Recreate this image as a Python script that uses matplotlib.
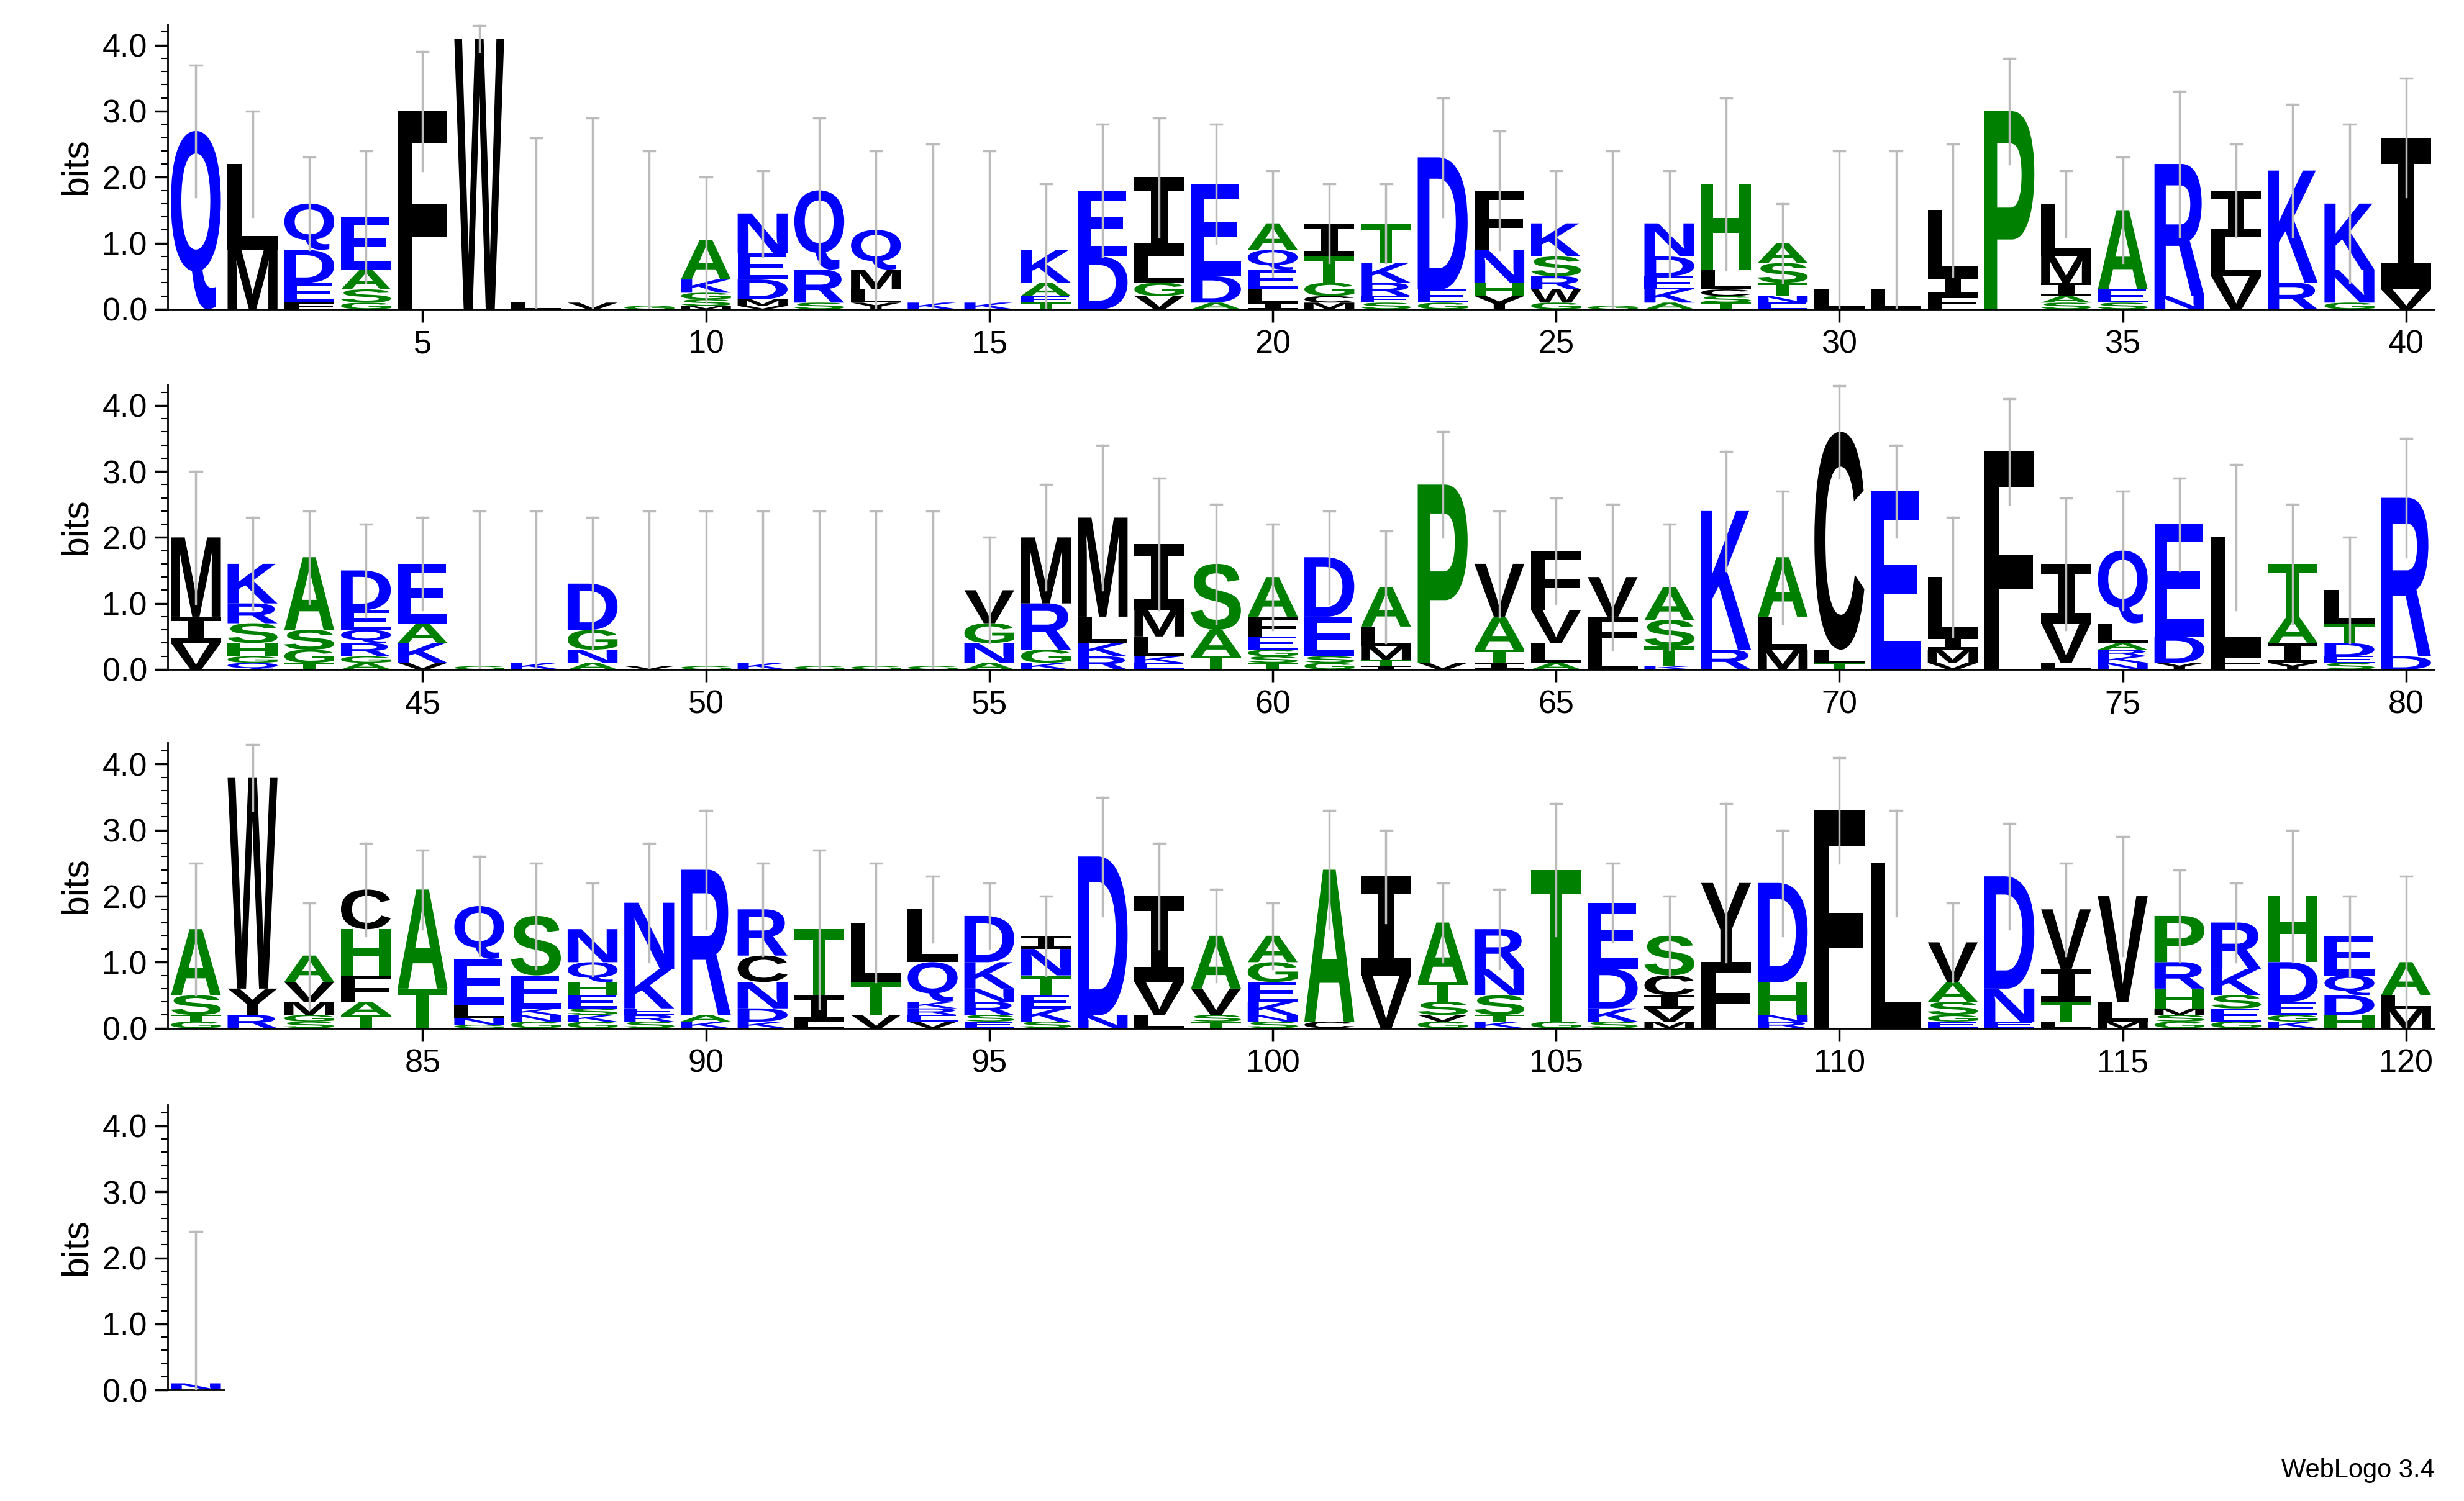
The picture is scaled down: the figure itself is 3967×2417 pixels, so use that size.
import matplotlib
matplotlib.use("Agg")
import matplotlib.pyplot as plt
from matplotlib.textpath import TextPath
from matplotlib.patches import PathPatch
from matplotlib.font_manager import FontProperties
from matplotlib.transforms import Affine2D
from matplotlib.ticker import MultipleLocator

plt.rcParams['font.family'] = ['Liberation Sans', 'DejaVu Sans']

# letter stacks per position, top letter first ("letter" + height in bits)
stacks = [
    "Q2.7", "L1.3 M0.9", "Q0.7 D0.5 E0.3 F0.1", "E0.8 A0.3 S0.2 G0.1", "F3.0",
    "W4.1", "L0.1", "V0.1", "G0.05", "A0.6 K0.2 G0.1 S0.1 M0.05",
    "N0.6 E0.4 D0.3 M0.1 V0.05", "Q1.2 R0.5 S0.1", "Q0.6 M0.3 L0.2 Y0.1", "K0.1", "K0.1",
    "K0.5 A0.2 E0.1 T0.1", "E1.0 D0.8", "I1.2 L0.4 G0.2 V0.2", "E1.4 D0.4 A0.1", "A0.4 Q0.3 E0.3 L0.2 I0.1",
    "I0.5 T0.4 G0.2 C0.1 M0.1", "T0.6 K0.3 R0.2 E0.1 S0.1", "D2.0 E0.2 G0.1", "F0.9 N0.5 H0.2 Y0.2", "K0.5 S0.3 R0.2 W0.2 G0.1",
    "G0.05", "N0.5 D0.3 E0.2 K0.2 A0.1", "H1.3 L0.3 C0.1 S0.1 T0.1", "A0.3 S0.3 T0.2 N0.1 E0.1", "L0.3",
    "L0.3", "L1.0 I0.3 F0.2", "P3.0", "L0.8 M0.4 I0.2 A0.1 S0.1", "A1.2 E0.2 S0.1",
    "R2.0 N0.2", "I0.7 L0.6 V0.5", "K1.7 R0.4", "K1.0 N0.5 G0.1", "I2.3 V0.3",
    "M1.2 I0.4 V0.4", "K0.6 R0.3 S0.3 H0.2 G0.1 Q0.1", "A1.1 S0.3 G0.2 T0.1", "D0.6 E0.3 Q0.2 R0.2 G0.1 A0.1", "E0.9 A0.3 K0.3 V0.1",
    "G0.05", "K0.1", "D0.7 G0.3 N0.2 A0.1", "V0.05", "G0.05",
    "K0.1", "G0.05", "G0.05", "G0.05", "V0.5 G0.3 N0.3 A0.1",
    "M1.0 R0.7 G0.2 K0.1", "M1.5 L0.4 K0.2 R0.2", "I1.0 M0.4 L0.3 K0.1 E0.1", "S1.0 A0.4 T0.2", "A0.6 F0.3 E0.2 G0.1 S0.1 T0.1",
    "D0.9 E0.6 S0.1 G0.1", "A0.6 L0.3 M0.2 T0.1 I0.05", "P2.7 V0.1", "V0.8 A0.5 T0.2 I0.1", "F0.9 V0.5 L0.3 A0.1",
    "V0.6 F0.5 L0.3", "A0.5 S0.4 T0.3 K0.05", "K2.1 R0.3", "A0.9 L0.5 M0.3", "C3.3 L0.2 T0.1",
    "E2.7", "L0.9 I0.2 M0.2 V0.1", "F3.3", "I0.9 V0.6 L0.1", "Q1.1 L0.3 A0.1 R0.1 K0.1 N0.1",
    "E1.7 D0.4 Y0.1", "L1.8 F0.2", "T0.8 A0.4 I0.3 Y0.1", "L0.5 T0.3 D0.2 E0.1 S0.1", "R2.4 D0.2",
    "A1.0 S0.3 T0.1 G0.1", "W3.2 Y0.4 R0.2", "A0.4 V0.3 M0.2 G0.1 S0.1", "C0.6 H0.7 F0.4 A0.2 T0.2", "A1.5 T0.6",
    "Q0.8 E0.7 L0.2 N0.1 G0.05", "S0.9 E0.5 K0.1 N0.1 G0.1", "N0.5 Q0.3 H0.2 E0.2 S0.1 K0.1 G0.1", "N1.0 K0.6 E0.1 R0.1 S0.1", "R2.2 A0.1 K0.1",
    "R0.7 C0.4 N0.4 D0.2 K0.1", "T1.0 I0.4 L0.1", "L0.9 T0.5 V0.2", "L0.8 Q0.6 K0.1 R0.1 E0.1 V0.1", "D0.7 K0.4 N0.2 R0.2 S0.1 E0.1",
    "I0.2 N0.4 T0.3 E0.2 K0.2 S0.1", "D2.4 N0.2", "I1.3 V0.5 L0.2", "A0.8 V0.4 S0.1 T0.1", "A0.4 G0.3 E0.3 K0.2 N0.1 S0.1",
    "A2.3 C0.1", "I1.5 V0.8", "A0.9 T0.3 S0.2 V0.1 G0.1", "R0.6 N0.4 S0.3 T0.1 K0.1", "T2.3 G0.1",
    "E1.0 D0.6 K0.2 S0.1", "S0.6 C0.3 I0.2 V0.2 M0.1", "Y1.2 F1.0", "D1.5 H0.5 N0.1 R0.1", "F3.3",
    "L2.5", "V0.6 A0.3 S0.2 G0.1 E0.1", "D1.7 N0.5 E0.1", "V0.9 I0.5 T0.3 L0.1", "V1.6 L0.3 M0.1",
    "P0.7 R0.4 H0.3 M0.1 S0.1 G0.1", "R0.7 K0.4 S0.2 E0.2 G0.1", "H1.0 D0.6 E0.2 G0.1 K0.1", "E0.6 Q0.3 D0.3 H0.2", "A0.5 L0.2 M0.3",
    "N0.1",
]
err_top = [
    3.7, 3.0, 2.3, 2.4, 3.9, 4.3, 2.6, 2.9, 2.4, 2.0,
    2.1, 2.9, 2.4, 2.5, 2.4, 1.9, 2.8, 2.9, 2.8, 2.1,
    1.9, 1.9, 3.2, 2.7, 2.1, 2.4, 2.1, 3.2, 1.6, 2.4,
    2.4, 2.5, 3.8, 2.1, 2.3, 3.3, 2.5, 3.1, 2.8, 3.5,
    3.0, 2.3, 2.4, 2.2, 2.3, 2.4, 2.4, 2.3, 2.4, 2.4,
    2.4, 2.4, 2.4, 2.4, 2.0, 2.8, 3.4, 2.9, 2.5, 2.2,
    2.4, 2.1, 3.6, 2.4, 2.6, 2.5, 2.2, 3.3, 2.7, 4.3,
    3.4, 2.3, 4.1, 2.6, 2.7, 2.9, 3.1, 2.5, 2.0, 3.5,
    2.5, 4.3, 1.9, 2.8, 2.7, 2.6, 2.5, 2.2, 2.8, 3.3,
    2.5, 2.7, 2.5, 2.3, 2.2, 2.0, 3.5, 2.8, 2.1, 1.9,
    3.3, 3.0, 2.2, 2.1, 3.4, 2.5, 2.0, 3.4, 3.0, 4.1,
    3.3, 1.9, 3.1, 2.5, 2.9, 2.4, 2.2, 3.0, 2.0, 2.3,
    2.4,
]

colors = {}
for c in "RKDENQ":
    colors[c] = "#0000ff"
for c in "SGHTAP":
    colors[c] = "#008000"
for c in "YVMCLFIW":
    colors[c] = "#000000"

fp = FontProperties(family="Liberation Sans", weight="bold")
fp_serif = FontProperties(family="DejaVu Sans Mono", weight="bold")


def draw_letter(ax, ch, x, y, h, w=0.88):
    tp = TextPath((0, 0), ch, size=1, prop=fp_serif if ch == "I" else fp)
    bb = tp.get_extents()
    tr = (Affine2D().translate(-bb.x0, -bb.y0)
          .scale(w / bb.width, h / bb.height)
          .translate(x - w / 2, y))
    ax.add_patch(PathPatch(tr.transform_path(tp), facecolor=colors[ch],
                           edgecolor="none", lw=0))


fig = plt.figure(figsize=(15.868, 9.668), dpi=250)
rows = [(1, 40, 0.794, 0.92), (41, 80, 0.554, 0.92), (81, 120, 0.315, 0.92), (121, 121, 0.074, 0.023)]
for first, last, bottom, width in rows:
    ax = fig.add_axes([0.068, bottom, width, 0.19])
    for pos in range(first, last + 1):
        items = stacks[pos - 1].split()
        y = 0.0
        for it in reversed(items):
            h = float(it[1:])
            draw_letter(ax, it[0], pos, y, h)
            y += h
        top = err_top[pos - 1]
        lo = max(0.0, 2 * y - top)
        ax.plot([pos, pos], [lo, top], color="#bbbbbb", lw=1.0, zorder=3)
        ax.plot([pos - 0.1, pos + 0.1], [top, top], color="#bbbbbb", lw=1.0, zorder=3)
    ax.set_xlim(first - 0.5, last + 0.5)
    ax.set_ylim(0, 4.32)
    for s in ("top", "right"):
        ax.spines[s].set_visible(False)
    ax.yaxis.set_minor_locator(MultipleLocator(0.2))
    ax.set_yticks([0, 1, 2, 3, 4])
    ax.set_yticklabels(["0.0", "1.0", "2.0", "3.0", "4.0"], fontsize=15)
    ticks = [t for t in range(first, last + 1) if t % 5 == 0]
    ax.set_xticks(ticks)
    ax.set_xticklabels([str(t) for t in ticks], fontsize=15)
    ax.tick_params(axis="both", direction="out", length=6, width=1)
    ax.tick_params(axis="y", which="minor", length=3)
    ax.set_ylabel("bits", fontsize=17)

fig.text(0.988, 0.012, "WebLogo 3.4", ha="right", va="bottom", fontsize=12)
fig.savefig("out.png", dpi=250)
